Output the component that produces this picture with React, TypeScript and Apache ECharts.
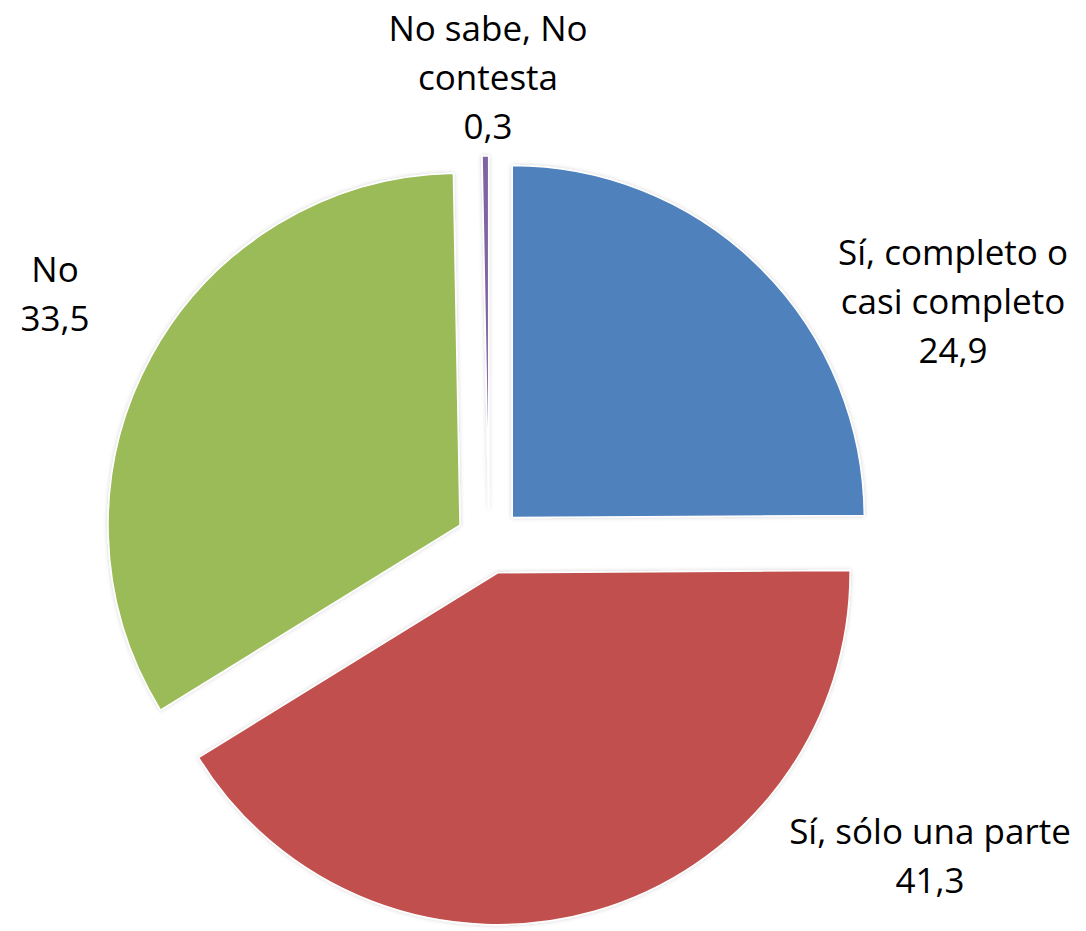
import React, { useEffect, useRef } from "react";
import * as echarts from "echarts";

const categories = [
  "Sí, completo o casi completo",
  "Sí, sólo una parte",
  "No",
  "No sabe, No contesta",
];
const labelNames = [
  "Sí, completo o\ncasi completo",
  "Sí, sólo una parte",
  "No",
  "No sabe, No\ncontesta",
];
const values = [24.9, 41.3, 33.5, 0.3];
const colors = ["#4F81BD", "#C0504D", "#9BBB59", "#8064A2"];
const labelAnchors = [
  [953, 300],
  [930, 855],
  [55, 293],
  [488, 76],
];

const fmt = (v: number) => v.toFixed(1).replace(".", ",");

export default function App() {
  const ref = useRef<HTMLDivElement>(null);
  useEffect(() => {
    if (!ref.current) return;
    const chart = echarts.init(ref.current, null, { renderer: "svg" });
    chart.setOption({
      animation: false,
      backgroundColor: "#ffffff",
      graphic: labelNames.map((n, i) => ({
        type: "text",
        x: labelAnchors[i][0],
        y: labelAnchors[i][1],
        style: {
          text: n + "\n" + fmt(values[i]),
          fontFamily: "'Open Sans', 'Noto Sans', sans-serif",
          fontSize: 35,
          lineHeight: 49,
          fill: "#000000",
          align: "center",
          verticalAlign: "middle",
        },
      })),
      series: [
        {
          type: "pie",
          center: [489, 541],
          radius: [0, 352],
          startAngle: 90,
          clockwise: true,
          selectedMode: "multiple",
          selectedOffset: 33,
          emphasis: { disabled: true },
          itemStyle: {
            borderColor: "#ffffff",
            borderWidth: 1.5,
            shadowColor: "rgba(0,0,0,0.18)",
            shadowBlur: 4,
          },
          label: { show: false },
          labelLine: { show: false },
          data: categories.map((c, i) => ({
            name: c,
            value: values[i],
            selected: true,
            itemStyle: { color: colors[i] },
          })),
        },
      ],
    });
    return () => chart.dispose();
  }, []);
  return (
    <div
      ref={ref}
      style={{ position: "fixed", left: 0, top: 0, width: 1086, height: 931 }}
    />
  );
}
